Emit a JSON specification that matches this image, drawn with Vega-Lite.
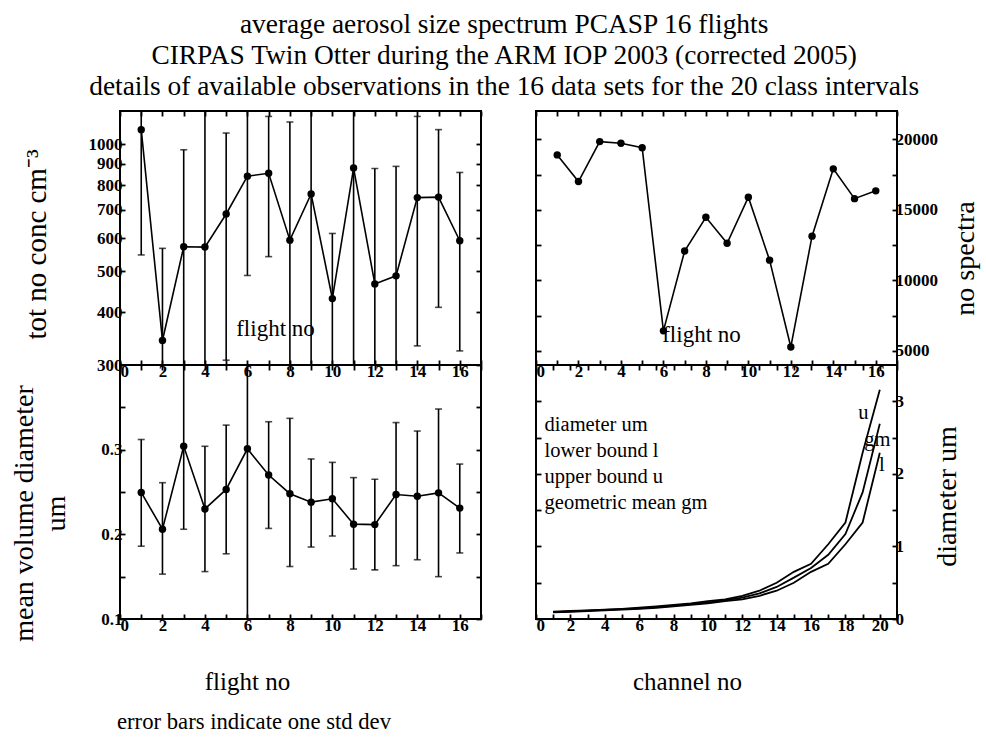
{
  "$schema": "https://vega.github.io/schema/vega-lite/v6.json",
  "background": "white",
  "padding": {"left": 9, "top": 10, "right": 0, "bottom": 5},
  "config": {
    "font": "Liberation Serif",
    "view": {"stroke": "black", "strokeWidth": 2},
    "axis": {
      "labelFont": "Liberation Serif", "labelFontWeight": "bold", "labelFontSize": 17, "labelColor": "black",
      "titleFont": "Liberation Serif", "titleFontWeight": "normal", "titleFontSize": 28, "titleColor": "black",
      "domain": false, "grid": false, "tickColor": "black", "tickSize": -5, "tickWidth": 1.8, "labelPadding": 3
    },
    "title": {"font": "Liberation Serif", "fontWeight": "normal", "color": "black"}
  },
  "title": {
    "text": ["average aerosol size spectrum PCASP 16 flights", "CIRPAS Twin Otter during the ARM IOP 2003 (corrected 2005)", "details of available observations in the 16 data sets for the 20 class intervals"],
    "fontSize": 27.4, "lineHeight": 31, "anchor": "middle", "offset": 9, "dx": 9
  },
  "datasets": {
    "flights": [
      {"flight": 1, "conc": 1084, "conc_lo": 547, "conc_hi": 1620, "nspec": 18890, "vmd": 0.2495, "vmd_lo": 0.186, "vmd_hi": 0.312},
      {"flight": 2, "conc": 343, "conc_lo": 119, "conc_hi": 567, "nspec": 17000, "vmd": 0.206, "vmd_lo": 0.153, "vmd_hi": 0.261},
      {"flight": 3, "conc": 572, "conc_lo": 173, "conc_hi": 971, "nspec": 19830, "vmd": 0.304, "vmd_lo": 0.206, "vmd_hi": 0.41},
      {"flight": 4, "conc": 571, "conc_lo": 100, "conc_hi": 1300, "nspec": 19720, "vmd": 0.230, "vmd_lo": 0.156, "vmd_hi": 0.304},
      {"flight": 5, "conc": 684, "conc_lo": 308, "conc_hi": 1064, "nspec": 19400, "vmd": 0.253, "vmd_lo": 0.177, "vmd_hi": 0.329},
      {"flight": 6, "conc": 841, "conc_lo": 489, "conc_hi": 1210, "nspec": 6420, "vmd": 0.301, "vmd_lo": 0.05, "vmd_hi": 0.55},
      {"flight": 7, "conc": 854, "conc_lo": 542, "conc_hi": 1165, "nspec": 12080, "vmd": 0.270, "vmd_lo": 0.207, "vmd_hi": 0.333},
      {"flight": 8, "conc": 593, "conc_lo": 100, "conc_hi": 1130, "nspec": 14470, "vmd": 0.248, "vmd_lo": 0.162, "vmd_hi": 0.337},
      {"flight": 9, "conc": 763, "conc_lo": 100, "conc_hi": 1400, "nspec": 12630, "vmd": 0.238, "vmd_lo": 0.185, "vmd_hi": 0.289},
      {"flight": 10, "conc": 431, "conc_lo": 247, "conc_hi": 615, "nspec": 15890, "vmd": 0.242, "vmd_lo": 0.198, "vmd_hi": 0.285},
      {"flight": 11, "conc": 879, "conc_lo": 100, "conc_hi": 1400, "nspec": 11430, "vmd": 0.212, "vmd_lo": 0.159, "vmd_hi": 0.267},
      {"flight": 12, "conc": 467, "conc_lo": 100, "conc_hi": 877, "nspec": 5280, "vmd": 0.2115, "vmd_lo": 0.158, "vmd_hi": 0.265},
      {"flight": 13, "conc": 488, "conc_lo": 100, "conc_hi": 887, "nspec": 13130, "vmd": 0.247, "vmd_lo": 0.163, "vmd_hi": 0.332},
      {"flight": 14, "conc": 748, "conc_lo": 333, "conc_hi": 1165, "nspec": 17900, "vmd": 0.245, "vmd_lo": 0.170, "vmd_hi": 0.322},
      {"flight": 15, "conc": 750, "conc_lo": 411, "conc_hi": 1084, "nspec": 15790, "vmd": 0.249, "vmd_lo": 0.150, "vmd_hi": 0.348},
      {"flight": 16, "conc": 591, "conc_lo": 324, "conc_hi": 858, "nspec": 16340, "vmd": 0.231, "vmd_lo": 0.178, "vmd_hi": 0.283}
    ],
    "channels": [
      {"channel": 1, "bound": "l", "d": 0.09}, {"channel": 1, "bound": "gm", "d": 0.0949}, {"channel": 1, "bound": "u", "d": 0.10},
      {"channel": 2, "bound": "l", "d": 0.10}, {"channel": 2, "bound": "gm", "d": 0.1049}, {"channel": 2, "bound": "u", "d": 0.11},
      {"channel": 3, "bound": "l", "d": 0.11}, {"channel": 3, "bound": "gm", "d": 0.1149}, {"channel": 3, "bound": "u", "d": 0.12},
      {"channel": 4, "bound": "l", "d": 0.12}, {"channel": 4, "bound": "gm", "d": 0.1249}, {"channel": 4, "bound": "u", "d": 0.13},
      {"channel": 5, "bound": "l", "d": 0.13}, {"channel": 5, "bound": "gm", "d": 0.1349}, {"channel": 5, "bound": "u", "d": 0.14},
      {"channel": 6, "bound": "l", "d": 0.14}, {"channel": 6, "bound": "gm", "d": 0.1473}, {"channel": 6, "bound": "u", "d": 0.155},
      {"channel": 7, "bound": "l", "d": 0.155}, {"channel": 7, "bound": "gm", "d": 0.1647}, {"channel": 7, "bound": "u", "d": 0.175},
      {"channel": 8, "bound": "l", "d": 0.175}, {"channel": 8, "bound": "gm", "d": 0.1847}, {"channel": 8, "bound": "u", "d": 0.195},
      {"channel": 9, "bound": "l", "d": 0.195}, {"channel": 9, "bound": "gm", "d": 0.2048}, {"channel": 9, "bound": "u", "d": 0.215},
      {"channel": 10, "bound": "l", "d": 0.215}, {"channel": 10, "bound": "gm", "d": 0.2295}, {"channel": 10, "bound": "u", "d": 0.245},
      {"channel": 11, "bound": "l", "d": 0.245}, {"channel": 11, "bound": "gm", "d": 0.2572}, {"channel": 11, "bound": "u", "d": 0.27},
      {"channel": 12, "bound": "l", "d": 0.27}, {"channel": 12, "bound": "gm", "d": 0.2939}, {"channel": 12, "bound": "u", "d": 0.32},
      {"channel": 13, "bound": "l", "d": 0.32}, {"channel": 13, "bound": "gm", "d": 0.3533}, {"channel": 13, "bound": "u", "d": 0.39},
      {"channel": 14, "bound": "l", "d": 0.39}, {"channel": 14, "bound": "gm", "d": 0.4416}, {"channel": 14, "bound": "u", "d": 0.50},
      {"channel": 15, "bound": "l", "d": 0.50}, {"channel": 15, "bound": "gm", "d": 0.5701}, {"channel": 15, "bound": "u", "d": 0.65},
      {"channel": 16, "bound": "l", "d": 0.65}, {"channel": 16, "bound": "gm", "d": 0.7029}, {"channel": 16, "bound": "u", "d": 0.76},
      {"channel": 17, "bound": "l", "d": 0.76}, {"channel": 17, "bound": "gm", "d": 0.8848}, {"channel": 17, "bound": "u", "d": 1.03},
      {"channel": 18, "bound": "l", "d": 1.03}, {"channel": 18, "bound": "gm", "d": 1.1704}, {"channel": 18, "bound": "u", "d": 1.33},
      {"channel": 19, "bound": "l", "d": 1.33}, {"channel": 19, "bound": "gm", "d": 1.7452}, {"channel": 19, "bound": "u", "d": 2.29},
      {"channel": 20, "bound": "l", "d": 2.29}, {"channel": 20, "bound": "gm", "d": 2.6901}, {"channel": 20, "bound": "u", "d": 3.16}
    ],
    "notes": [
      {"channel": 0.5, "d": 2.68, "note": "diameter um"},
      {"channel": 0.5, "d": 2.32, "note": "lower bound l"},
      {"channel": 0.5, "d": 1.96, "note": "upper bound u"},
      {"channel": 0.5, "d": 1.60, "note": "geometric mean gm"},
      {"channel": 18.75, "d": 2.84, "note": "u"},
      {"channel": 19.1, "d": 2.47, "note": "gm"},
      {"channel": 19.95, "d": 2.12, "note": "l"}
    ]
  },
  "columns": 2,
  "spacing": {"row": 0, "column": 55},
  "bounds": "flush",
  "concat": [
    {
      "width": 361, "height": 254,
      "data": {"name": "flights"},
      "layer": [
        {
          "mark": {"type": "rule", "color": "black", "strokeWidth": 1.6, "clip": true},
          "encoding": {
            "x": {"field": "flight", "type": "quantitative", "scale": {"domain": [0, 17], "nice": false},
                  "axis": {"orient": "bottom", "values": [0,1,2,3,4,5,6,7,8,9,10,11,12,13,14,15,16,17], "labelExpr": "datum.value % 2 == 0 && datum.value < 17 ? datum.label : ''",
                           "title": "flight no", "titleFontSize": 23, "titleX": 155, "titleY": -37, "titleBaseline": "middle"}},
            "y": {"field": "conc_lo", "type": "quantitative", "scale": {"type": "log", "domain": [300, 1200], "nice": false},
                  "axis": {"orient": "left", "values": [300,400,500,600,700,800,900,1000], "format": "d", "title": "tot no conc cm⁻³", "titleFontSize": 29, "titlePadding": 37, "titleY": 133}},
            "y2": {"field": "conc_hi"}
          }
        },
        {
          "mark": {"type": "tick", "orient": "horizontal", "size": 7, "thickness": 1.6, "color": "black", "clip": true},
          "encoding": {
            "x": {"field": "flight", "type": "quantitative", "axis": {"orient": "top", "values": [0,1,2,3,4,5,6,7,8,9,10,11,12,13,14,15,16,17], "labels": false, "title": null}},
            "y": {"field": "conc_lo", "type": "quantitative", "axis": {"orient": "right", "values": [300,400,500,600,700,800,900,1000], "labels": false, "title": null}}
          }
        },
        {
          "mark": {"type": "tick", "orient": "horizontal", "size": 7, "thickness": 1.6, "color": "black", "clip": true},
          "encoding": {
            "x": {"field": "flight", "type": "quantitative", "axis": null},
            "y": {"field": "conc_hi", "type": "quantitative", "axis": null}
          }
        },
        {
          "mark": {"type": "line", "color": "black", "strokeWidth": 1.6},
          "encoding": {
            "x": {"field": "flight", "type": "quantitative", "axis": null},
            "y": {"field": "conc", "type": "quantitative", "axis": null}
          }
        },
        {
          "mark": {"type": "point", "filled": true, "shape": "circle", "color": "black", "size": 55, "opacity": 1},
          "encoding": {
            "x": {"field": "flight", "type": "quantitative", "axis": null},
            "y": {"field": "conc", "type": "quantitative", "axis": null}
          }
        }
      ],
      "resolve": {"axis": {"x": "independent", "y": "independent"}}
    },
    {
      "width": 361, "height": 254,
      "data": {"name": "flights"},
      "layer": [
        {
          "mark": {"type": "line", "color": "black", "strokeWidth": 1.6},
          "encoding": {
            "x": {"field": "flight", "type": "quantitative", "scale": {"domain": [0, 17], "nice": false},
                  "axis": {"orient": "bottom", "values": [0,1,2,3,4,5,6,7,8,9,10,11,12,13,14,15,16,17], "labelExpr": "datum.value % 2 == 0 && datum.value < 17 ? datum.label : ''",
                           "title": "flight no", "titleFontSize": 23, "titleX": 165, "titleY": -31, "titleBaseline": "middle"}},
            "y": {"field": "nspec", "type": "quantitative", "scale": {"domain": [4000, 22000], "nice": false},
                  "axis": {"orient": "right", "values": [5000,7500,10000,12500,15000,17500,20000], "format": "d", "labelExpr": "datum.value % 5000 == 0 ? datum.label : ''", "title": "no spectra", "titleAngle": -90, "titlePadding": 42, "titleY": 147}}
          }
        },
        {
          "mark": {"type": "point", "filled": true, "shape": "circle", "color": "black", "size": 55, "opacity": 1},
          "encoding": {
            "x": {"field": "flight", "type": "quantitative", "axis": {"orient": "top", "values": [0,1,2,3,4,5,6,7,8,9,10,11,12,13,14,15,16,17], "labels": false, "title": null}},
            "y": {"field": "nspec", "type": "quantitative", "axis": {"orient": "left", "values": [5000,7500,10000,12500,15000,17500,20000], "labels": false, "title": null}}
          }
        }
      ],
      "resolve": {"axis": {"x": "independent", "y": "independent"}}
    },
    {
      "width": 361, "height": 254,
      "data": {"name": "flights"},
      "title": {"text": "error bars indicate one std dev", "orient": "bottom", "anchor": "start", "frame": "group", "fontSize": 22.7, "offset": 17, "dx": -3},
      "layer": [
        {
          "mark": {"type": "rule", "color": "black", "strokeWidth": 1.6, "clip": true},
          "encoding": {
            "x": {"field": "flight", "type": "quantitative", "scale": {"domain": [0, 17], "nice": false},
                  "axis": {"orient": "bottom", "values": [0,1,2,3,4,5,6,7,8,9,10,11,12,13,14,15,16,17], "labelExpr": "datum.value % 2 == 0 && datum.value < 17 ? datum.label : ''",
                           "title": "flight no", "titleFontSize": 25, "titleX": 127, "titleY": 62, "titleBaseline": "middle"}},
            "y": {"field": "vmd_lo", "type": "quantitative", "scale": {"domain": [0.1, 0.4], "nice": false},
                  "axis": {"orient": "left", "values": [0.1,0.15,0.2,0.25,0.3,0.35], "format": ".1f", "labelExpr": "abs(datum.value * 10 - round(datum.value * 10)) < 0.001 ? datum.label : ''", "title": ["mean volume diameter", "um"], "titleLineHeight": 32, "titlePadding": 30, "titleY": 148}},
            "y2": {"field": "vmd_hi"}
          }
        },
        {
          "mark": {"type": "tick", "orient": "horizontal", "size": 7, "thickness": 1.6, "color": "black", "clip": true},
          "encoding": {
            "x": {"field": "flight", "type": "quantitative", "axis": {"orient": "top", "values": [0,1,2,3,4,5,6,7,8,9,10,11,12,13,14,15,16,17], "labels": false, "title": null}},
            "y": {"field": "vmd_lo", "type": "quantitative", "axis": {"orient": "right", "values": [0.1,0.15,0.2,0.25,0.3,0.35], "labels": false, "title": null}}
          }
        },
        {
          "mark": {"type": "tick", "orient": "horizontal", "size": 7, "thickness": 1.6, "color": "black", "clip": true},
          "encoding": {
            "x": {"field": "flight", "type": "quantitative", "axis": null},
            "y": {"field": "vmd_hi", "type": "quantitative", "axis": null}
          }
        },
        {
          "mark": {"type": "line", "color": "black", "strokeWidth": 1.6},
          "encoding": {
            "x": {"field": "flight", "type": "quantitative", "axis": null},
            "y": {"field": "vmd", "type": "quantitative", "axis": null}
          }
        },
        {
          "mark": {"type": "point", "filled": true, "shape": "circle", "color": "black", "size": 55, "opacity": 1},
          "encoding": {
            "x": {"field": "flight", "type": "quantitative", "axis": null},
            "y": {"field": "vmd", "type": "quantitative", "axis": null}
          }
        }
      ],
      "resolve": {"axis": {"x": "independent", "y": "independent"}}
    },
    {
      "width": 361, "height": 254,
      "layer": [
        {
          "data": {"name": "channels"},
          "mark": {"type": "line", "color": "black", "strokeWidth": 1.8},
          "encoding": {
            "x": {"field": "channel", "type": "quantitative", "scale": {"domain": [0, 21], "nice": false},
                  "axis": {"orient": "bottom", "values": [0,1,2,3,4,5,6,7,8,9,10,11,12,13,14,15,16,17,18,19,20,21], "labelExpr": "datum.value % 2 == 0 && datum.value < 21 ? datum.label : ''",
                           "title": "channel no", "titleFontSize": 25, "titleX": 151, "titleY": 62, "titleBaseline": "middle"}},
            "y": {"field": "d", "type": "quantitative", "scale": {"domain": [0, 3.5], "nice": false},
                  "axis": {"orient": "right", "values": [0,0.5,1,1.5,2,2.5,3], "format": ".0f", "labelExpr": "datum.value % 1 == 0 ? datum.label : ''", "title": "diameter um", "titleAngle": -90, "titlePadding": 58, "titleY": 131}},
            "detail": {"field": "bound", "type": "nominal"}
          }
        },
        {
          "data": {"name": "notes"},
          "mark": {"type": "text", "align": "left", "baseline": "middle", "color": "black", "font": "Liberation Serif", "fontSize": 20.5},
          "encoding": {
            "x": {"field": "channel", "type": "quantitative", "axis": {"orient": "top", "values": [0,1,2,3,4,5,6,7,8,9,10,11,12,13,14,15,16,17,18,19,20,21], "labels": false, "title": null}},
            "y": {"field": "d", "type": "quantitative", "axis": {"orient": "left", "values": [0,0.5,1,1.5,2,2.5,3], "labels": false, "title": null}},
            "text": {"field": "note"}
          }
        }
      ],
      "resolve": {"axis": {"x": "independent", "y": "independent"}}
    }
  ]
}
